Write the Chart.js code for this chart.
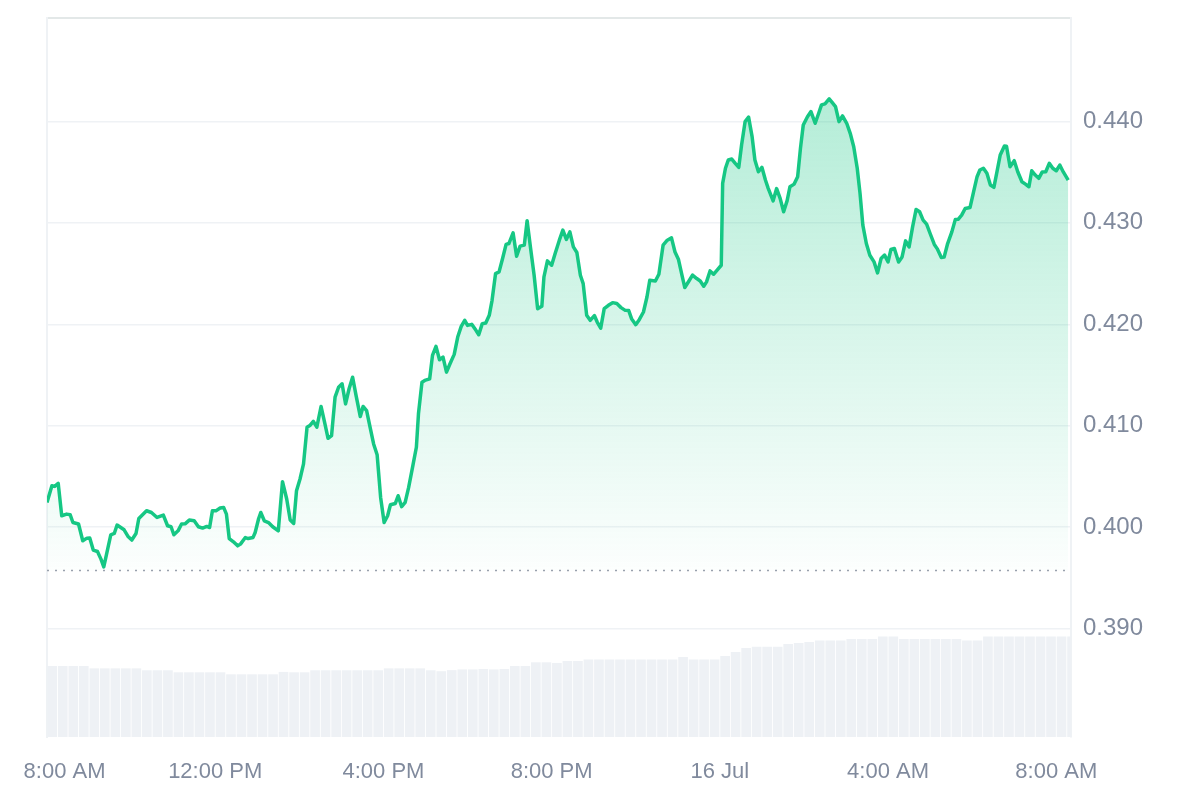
<!DOCTYPE html>
<html>
<head>
<meta charset="utf-8">
<script src="https://cdn.jsdelivr.net/npm/chart.js@4.4.1/dist/chart.umd.min.js"></script>
<style>
    html, body { margin: 0; padding: 0; background: #fff; }
</style>
</head>
<body>
<canvas id="price-chart" width="1200" height="800"></canvas>
<script>
// minutes after 15 Jul 8:00 AM
var minutes = [
    0,7,11,16,21,28,33,37,45,51, 57,61,66,72,77,81,85,91,96,100,
    110,116,121,127,131,142,149,157,166,172, 177,181,187,192,197,203,210,216,222,228,
    232,236,241,247,252,256,260,266,272,276, 283,287,294,297,302,305,310,316,322,330,
    336,342,347,352,
    356,361,366,371,375,380,385,391,396,401, 406,411,416,421,426,431,436,441,447,451,
    456,461,466,471,476,481,486,490,497,501, 506,511,516,522,527,530,535,539,546,550,
    555,560,565,570,575,581,586,591,596,600, 606,612,616,621,626,631,635,640,645,650,
    655,659,665,670,675,681,685,690,695,700, 706,
    709,714,720,725,731,736,741,746,751,756, 761,765,770,775,781,785,790,795,801,807,
    813,819,825,830,834,840,845,851,856,860, 868,873,879,885,891,896,901,906,910,915,
    921,927,932,937,941,946,951,957,962,
    964,968,972,977,982,987,991,996,1001,1006, 1010,1015,1020,1025,1029,1036,1041,1046,1051,1056,
    1060,1066,1071,1075,1079,1085,1090,1096,1101,1105, 1110,1116,1121,1125,1130,1135,1141,1146,1151,1156,
    1160,1164,1169,1174,1180,1185,1190,1195,1200,1204, 1209,1215,
    1220,1225,1230,1235,1240,1245,1250,1255,1260,1266, 1270,1276,1280,1285,1291,1296,1300,1305,1310,1317,
    1322,1327,1331,1336,1341,1346,1351,1355,1360,1366, 1369,1374,1380,1385,1391,1396,1401,1405,1410,1415,
    1420,1425,1430,1435,1440,1445,1450,1457
];

var prices = [
    0.40243,0.40408,0.40401,0.40431,0.40112,0.40128,0.40122,0.40045,0.40030,0.39865,
    0.39891,0.39893,0.39773,0.39759,0.39684,0.39608,0.39733,0.39924,0.39937,0.40020,
    0.39973,0.39904,0.39872,0.39937,0.40085,0.40161,0.40144,0.40095,0.40119,0.40013,
    0.40003,0.39924,0.39963,0.40030,0.40032,0.40069,0.40062,0.40003,0.39990,0.40006,
    0.39996,0.40161,0.40160,0.40188,0.40194,0.40128,0.39887,0.39855,0.39815,0.39832,
    0.39897,0.39887,0.39898,0.39947,0.40085,0.40144,0.40062,0.40045,0.40003,0.39963,
    0.40448,0.40277,0.40069,0.40036,
    0.40359,0.40474,0.40623,0.40984,0.41001,0.41043,0.40985,0.41189,0.41034,0.40875,
    0.40902,0.41281,0.41379,0.41413,0.41215,0.41364,0.41478,0.41297,0.41090,0.41189,
    0.41149,0.40984,0.40820,0.40714,0.40292,0.40045,0.40112,0.40220,0.40233,0.40309,
    0.40201,0.40243,0.40391,0.40606,0.40787,0.41117,0.41429,0.41446,0.41462,0.41693,
    0.41782,0.41650,0.41676,0.41528,0.41611,0.41703,0.41874,0.41979,0.42039,0.41989,
    0.41999,0.41940,0.41897,0.42006,0.42012,0.42088,0.42236,0.42500,0.42516,0.42648,
    0.42787,0.42796,0.42901,0.42671,0.42770,0.42780,0.43020,0.42747,0.42483,0.42154,
    0.42177,
    0.42466,0.42625,0.42582,0.42698,0.42829,0.42928,0.42836,0.42911,0.42763,0.42708,
    0.42483,0.42401,0.42088,0.42039,0.42086,0.42022,0.41962,0.42154,0.42187,0.42213,
    0.42204,0.42164,0.42137,0.42135,0.42055,0.41996,0.42045,0.42121,0.42269,0.42434,
    0.42427,0.42493,0.42780,0.42829,0.42852,0.42713,0.42638,0.42483,0.42362,0.42417,
    0.42485,0.42451,0.42427,0.42375,0.42418,0.42526,0.42493,0.42542,0.42582,
    0.43389,0.43538,0.43620,0.43629,0.43587,0.43547,0.43768,0.43998,0.44042,0.43850,
    0.43620,0.43504,0.43548,0.43422,0.43340,0.43217,0.43338,0.43241,0.43109,0.43219,
    0.43356,0.43382,0.43455,0.43735,0.43965,0.44047,0.44097,0.43982,0.44081,0.44163,
    0.44173,0.44222,0.44180,0.44146,0.43998,0.44054,0.43982,0.43883,0.43751,0.43538,
    0.43291,0.42977,0.42796,0.42681,0.42615,0.42506,0.42648,0.42682,0.42615,0.42737,
    0.42747,0.42614,
    0.42664,0.42822,0.42763,0.42960,0.43132,0.43109,0.43027,0.42987,0.42895,0.42787,
    0.42746,0.42658,0.42662,0.42796,0.42911,0.43034,0.43035,0.43076,0.43142,0.43152,
    0.43306,0.43455,0.43521,0.43538,0.43488,0.43373,0.43350,0.43490,0.43669,0.43758,
    0.43756,0.43553,0.43613,0.43504,0.43405,0.43382,0.43356,0.43514,0.43471,0.43439,
    0.43502,0.43504,0.43587,0.43538,0.43514,0.43570,0.43502,0.43422
];

// 15 minute volume buckets (arbitrary units, hidden axis)
var volume = [
    98.7,98.7,98.7,98.7,95.5,95.5,95.5,95.5,95.5,92.8,
    92.8,92.8,90,90,90,90,90,87.2,87.2,87.2,
    87.2,87.2,90.5,90,90,92.8,92.8,92.8,92.8,92.8,
    92.8,92.8,95.5,95.5,95.5,95.5,92.8,91.5,93,94,
    94,94.5,94,94.5,98.7,98.7,103.9,103.9,103,105.7,
    105.7,107.8,107.8,107.8,107.8,107.8,107.8,107.8,107.8,107.8,
    111.3,107.8,107.8,107.8,112.7,118.2,123.8,125.5,125.5,125.5,
    129.3,130.7,132,134.1,134.1,134.1,136.4,136.4,136.4,139.8,
    139.8,136.4,136.4,136.3,136.3,136.3,136.3,134.1,134.1,139.8,
    139.8,139.8,139.8,139.8,139.8,139.8,139.8,139.8
];
var volumeStep = 15;

var refPrice = 0.39572;

var tickMinutes = [0, 240, 480, 720, 960, 1200, 1440];
var tickLabels = ['8:00 AM', '12:00 PM', '4:00 PM', '8:00 PM', '16 Jul', '4:00 AM', '8:00 AM'];
var priceTicks = [0.390, 0.400, 0.410, 0.420, 0.430, 0.440];

var rangeEnd = 1461;

var green = '#16c784';
var labelColor = '#808a9d';
var gridColor = '#eff2f5';

var pricePoints = [];
for (var i = 0; i < minutes.length; i++) {
    pricePoints.push({x: minutes[i], y: prices[i]});
}
var volumePoints = [];
for (var j = 0; j < volume.length; j++) {
    volumePoints.push({x: j * volumeStep + volumeStep / 2, y: volume[j]});
}

function areaGradient(context) {
    var chart = context.chart;
    var area = chart.chartArea;
    if (!area) {
        return 'rgba(22,199,132,0.2)';
    }
    var bottom = chart.scales.y.getPixelForValue(refPrice);
    var g = chart.ctx.createLinearGradient(0, area.top + 80, 0, bottom);
    g.addColorStop(0, 'rgba(22,199,132,0.32)');
    g.addColorStop(1, 'rgba(22,199,132,0.01)');
    return g;
}

var fontFamily = 'Arial, "Liberation Sans", sans-serif';

var chart = new Chart(document.getElementById('price-chart'), {
    type: 'line',
    data: {
        datasets: [{
            type: 'line',
            label: 'Price',
            data: pricePoints,
            borderColor: green,
            borderWidth: 3.5,
            borderJoinStyle: 'round',
            pointRadius: 0,
            tension: 0,
            fill: {value: refPrice},
            backgroundColor: areaGradient,
            yAxisID: 'y',
            order: 0
        }, {
            type: 'line',
            label: 'Open',
            data: [{x: 0, y: refPrice}, {x: rangeEnd, y: refPrice}],
            borderColor: '#9aa1ad',
            borderWidth: 1.5,
            borderDash: [2, 6],
            pointRadius: 0,
            fill: false,
            yAxisID: 'y',
            order: 1
        }, {
            type: 'bar',
            label: 'Volume',
            data: volumePoints,
            backgroundColor: '#eef1f5',
            barPercentage: 0.92,
            categoryPercentage: 1,
            yAxisID: 'yVol',
            order: 2
        }]
    },
    options: {
        responsive: false,
        devicePixelRatio: 1,
        animation: false,
        layout: {padding: {left: 47, top: 18, right: 0, bottom: 0}},
        plugins: {legend: {display: false}, tooltip: {enabled: false}},
        scales: {
            x: {
                type: 'linear',
                min: 0,
                max: rangeEnd,
                offset: false,
                grid: {display: false, drawTicks: false},
                border: {display: false},
                afterBuildTicks: function(scale) {
                    scale.ticks = tickMinutes.map(function(m) { return {value: m}; });
                    // first label sits a little inside the left edge, as in the source
                    scale.ticks[0].value = 25;
                },
                afterFit: function(scale) {
                    scale.height = 63;
                    scale.paddingLeft = 0;
                    scale.paddingRight = 0;
                },
                ticks: {
                    color: labelColor,
                    font: {family: fontFamily, size: 22},
                    padding: 22,
                    maxRotation: 0,
                    autoSkip: false,
                    callback: function(value, index) { return tickLabels[index]; }
                }
            },
            xTop: {
                type: 'linear',
                position: 'top',
                min: 0,
                max: rangeEnd,
                grid: {display: false, drawTicks: false},
                border: {display: true, color: '#e3e8e8', width: 2},
                ticks: {display: false},
                afterFit: function(scale) { scale.height = 0; }
            },
            y: {
                position: 'right',
                min: 0.3793,
                max: 0.4502,
                grid: {color: gridColor, lineWidth: 1.5, drawTicks: false},
                border: {display: true, color: gridColor, width: 2},
                afterBuildTicks: function(scale) {
                    scale.ticks = priceTicks.map(function(v) { return {value: v}; });
                },
                afterFit: function(scale) {
                    scale.width = 129;
                    scale.paddingTop = 0;
                    scale.paddingBottom = 0;
                },
                ticks: {
                    color: labelColor,
                    font: {family: fontFamily, size: 24},
                    padding: 12,
                    callback: function(value) { return value.toFixed(3); }
                }
            },
            yVol: {
                position: 'left',
                min: 0,
                max: 1000,
                grid: {display: false, drawTicks: false},
                border: {display: true, color: gridColor, width: 2},
                ticks: {display: false},
                afterFit: function(scale) { scale.width = 0; }
            }
        }
    }
});
</script>
</body>
</html>
